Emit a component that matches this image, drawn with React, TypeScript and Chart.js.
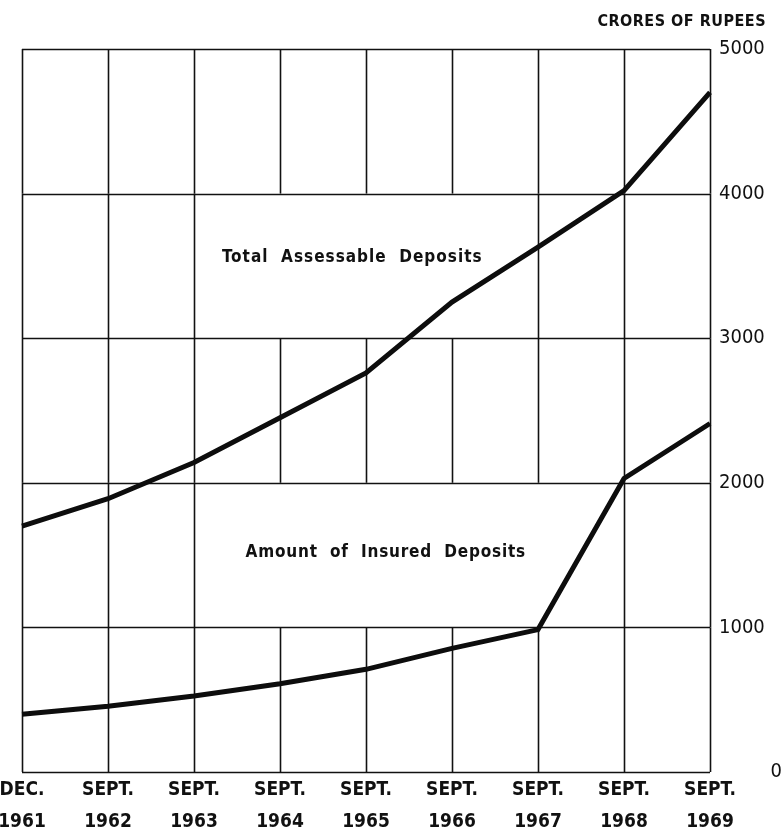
import React, { useEffect, useRef } from 'react';
import { Chart, registerables } from 'chart.js';

Chart.register(...registerables);

// ---- data ----
const monthLabels = ['DEC.', 'SEPT.', 'SEPT.', 'SEPT.', 'SEPT.', 'SEPT.', 'SEPT.', 'SEPT.', 'SEPT.'];
const yearLabels = ['1961', '1962', '1963', '1964', '1965', '1966', '1967', '1968', '1969'];
const totalAssessable = [1700, 1890, 2140, 2450, 2760, 3250, 3630, 4020, 4700];
const insuredDeposits = [400, 455, 525, 610, 710, 855, 985, 2030, 2410];
const yTickValues = [0, 1000, 2000, 3000, 4000, 5000];
const unitTitle = 'CRORES OF RUPEES';
const totalNote = 'Total  Assessable  Deposits';
const insuredNote = 'Amount  of  Insured  Deposits';
// grid cells (row between y ticks, vertical line index) that are left open for the notes
const gridGaps: { row: number; cols: number[] }[] = [
  { row: 3, cols: [3, 4, 5] },
  { row: 1, cols: [3, 4, 5, 6] },
];

const FONT = "'DejaVu Sans Condensed', 'DejaVu Sans', sans-serif";

const gridPlugin = {
  id: 'paperGrid',
  beforeDatasetsDraw(chart: any) {
    const { ctx, scales } = chart;
    const xs = scales.x;
    const ys = scales.y;
    ctx.save();
    ctx.strokeStyle = '#111';
    ctx.lineWidth = 1.6;
    const left = xs.getPixelForValue(0);
    const right = xs.getPixelForValue(monthLabels.length - 1);
    yTickValues.forEach((v) => {
      const y = Math.round(ys.getPixelForValue(v)) + 0.5;
      ctx.beginPath();
      ctx.moveTo(left, y);
      ctx.lineTo(right, y);
      ctx.stroke();
    });
    for (let r = 0; r < yTickValues.length - 1; r++) {
      const yb = ys.getPixelForValue(yTickValues[r]);
      const yt = ys.getPixelForValue(yTickValues[r + 1]);
      const gap = gridGaps.find((g) => g.row === r);
      for (let c = 0; c < monthLabels.length; c++) {
        if (gap && gap.cols.includes(c)) continue;
        const x = Math.round(xs.getPixelForValue(c)) + 0.5;
        ctx.beginPath();
        ctx.moveTo(x, yt);
        ctx.lineTo(x, yb);
        ctx.stroke();
      }
    }
    ctx.restore();
  },
  afterDraw(chart: any) {
    const { ctx, scales } = chart;
    const xs = scales.x;
    const ys = scales.y;
    ctx.save();
    ctx.fillStyle = '#111';
    ctx.textBaseline = 'middle';
    ctx.font = `bold 16px ${FONT}`;
    (ctx as any).letterSpacing = '0.5px';
    ctx.textAlign = 'right';
    ctx.fillText(unitTitle, 766, 22);
    ctx.textAlign = 'center';
    ctx.font = `bold 17px ${FONT}`;
    (ctx as any).letterSpacing = '1px';
    ctx.fillText(totalNote, xs.getPixelForValue(3.84), ys.getPixelForValue(3560));
    (ctx as any).letterSpacing = '0.8px';
    ctx.fillText(insuredNote, xs.getPixelForValue(4.23), ys.getPixelForValue(1515));
    ctx.restore();
  },
};

export default function App() {
  const ref = useRef<HTMLCanvasElement>(null);
  useEffect(() => {
    if (!ref.current) return;
    const chart = new Chart(ref.current, {
      type: 'line',
      data: {
        labels: monthLabels.map((m, i) => [m, yearLabels[i]]),
        datasets: [
          {
            label: 'Total Assessable Deposits',
            data: totalAssessable,
            borderColor: '#0d0d0d',
            borderWidth: 5,
            pointRadius: 0,
            tension: 0,
          },
          {
            label: 'Amount of Insured Deposits',
            data: insuredDeposits,
            borderColor: '#0d0d0d',
            borderWidth: 5,
            pointRadius: 0,
            tension: 0,
          },
        ],
      },
      options: {
        responsive: false,
        animation: false,
        layout: { padding: { top: 49, left: 22, right: 0, bottom: 0 } },
        plugins: { legend: { display: false }, tooltip: { enabled: false }, title: { display: false } },
        scales: {
          x: {
            type: 'category',
            offset: false,
            grid: { display: false },
            border: { display: false },
            afterFit: (s: any) => {
              s.height = 62;
              s.paddingLeft = 0;
              s.paddingRight = 0;
            },
            ticks: {
              color: '#111',
              maxRotation: 0,
              autoSkip: false,
              padding: -6,
              font: { family: FONT, size: 19, weight: 'bold', lineHeight: 1.7 },
            },
          },
          y: {
            position: 'right',
            min: 0,
            max: 5000,
            grid: { display: false },
            border: { display: false },
            afterFit: (s: any) => {
              s.width = 74;
            },
            ticks: {
              stepSize: 1000,
              color: '#111',
              padding: 1,
              font: { family: FONT, size: 20 },
              callback: (v: any) => (v === 0 ? '\u2007\u2007\u2007\u2007 0' : String(v)),
            },
          },
        },
      },
      plugins: [gridPlugin],
    });
    return () => chart.destroy();
  }, []);
  return (
    <div style={{ position: 'absolute', left: 0, top: 0, width: 784, height: 834, background: '#fff' }}>
      <canvas ref={ref} width={784} height={834} style={{ display: 'block' }} />
    </div>
  );
}
